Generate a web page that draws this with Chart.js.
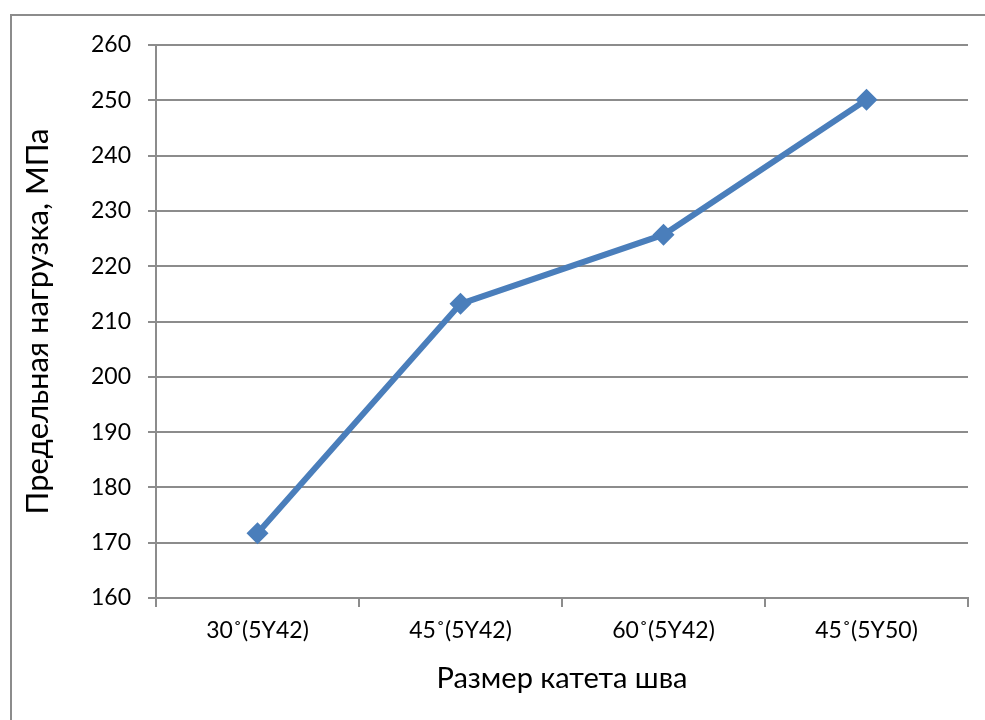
<!DOCTYPE html>
<html>
<head>
<meta charset="utf-8">
<script src="https://cdn.jsdelivr.net/npm/chart.js@4"></script>
<style>
  html, body { margin: 0; padding: 0; background: #fff; }
  #wrap { width: 985px; height: 720px; position: relative; }
</style>
</head>
<body>
<div id="wrap"><canvas id="c" width="985" height="720"></canvas></div>
<script>
// Ultimate load vs. weld leg size
const categories = ['30˚(5Y42)', '45˚(5Y42)', '60˚(5Y42)', '45˚(5Y50)'];
const loadValues = [171.7, 213.2, 225.7, 250.1];
const yTicks = [160, 170, 180, 190, 200, 210, 220, 230, 240, 250, 260];
const xTitle = 'Размер катета шва';
const yTitle = 'Предельная нагрузка, МПа';

const FONT = 'Lato, "Open Sans", sans-serif';
const GRID = '#8c8c8c';

// Frame drawn around the whole chart
const framePlugin = {
  id: 'frame',
  beforeDraw(chart) {
    const ctx = chart.ctx;
    ctx.save();
    ctx.strokeStyle = '#8c8c8c';
    ctx.lineWidth = 2;
    ctx.strokeRect(11, 15, 1000, 1000);
    ctx.restore();
  }
};

new Chart(document.getElementById('c'), {
  type: 'line',
  data: {
    labels: categories,
    datasets: [{
      data: loadValues,
      borderColor: '#4a7ebb',
      backgroundColor: '#4a7ebb',
      borderWidth: 6,
      pointStyle: 'rectRot',
      pointRadius: 11,
      pointHoverRadius: 11,
      pointBorderWidth: 0,
      tension: 0
    }]
  },
  options: {
    responsive: false,
    animation: false,
    events: [],
    layout: { padding: { left: 15, right: 17, top: 45, bottom: 20 } },
    plugins: { legend: { display: false }, tooltip: { enabled: false } },
    scales: {
      x: {
        type: 'category',
        offset: true,
        grid: { offset: true, drawOnChartArea: false, drawTicks: true, tickLength: 9, color: GRID, lineWidth: 2 },
        border: { color: GRID, width: 2 },
        ticks: { color: '#000', font: { family: FONT, size: 23 }, padding: 10, maxRotation: 0 },
        title: { display: true, text: xTitle, color: '#000', font: { family: FONT, size: 29 }, padding: { top: 4, bottom: 4 } },
        afterFit(scale) { scale.height = 720 - 598 - 20; }
      },
      y: {
        min: 160, max: 260,
        afterBuildTicks(scale) { scale.ticks = yTicks.map(v => ({ value: v })); },
        grid: { color: GRID, lineWidth: 2, tickLength: 8 },
        border: { color: GRID, width: 2 },
        ticks: { color: '#000', font: { family: FONT, size: 23 }, padding: 17 },
        title: { display: true, text: yTitle, color: '#000', font: { family: FONT, size: 31 }, padding: { top: 4, bottom: 4 } },
        afterFit(scale) { scale.width = 156 - 15; }
      }
    }
  },
  plugins: [framePlugin]
});
</script>
</body>
</html>
